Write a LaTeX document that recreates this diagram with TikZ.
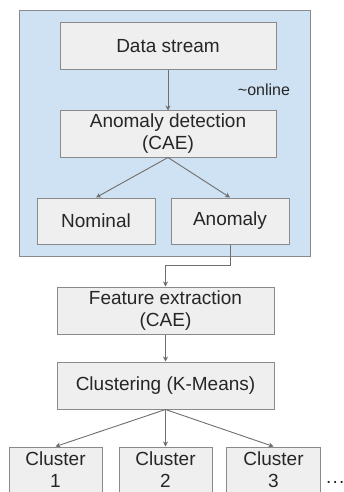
\documentclass[tikz,border=0pt]{standalone}
\usepackage{fontspec}
\setmainfont{Liberation Sans}
\usepackage{xcolor}
\usetikzlibrary{arrows.meta}

\definecolor{fundoazul}{HTML}{CFE2F3}
\definecolor{fundocaixa}{HTML}{EFEFEF}
\definecolor{bordacinza}{HTML}{8A8A8A}
\definecolor{setacinza}{HTML}{6E6E6E}

\tikzset{
  caixa/.style={draw=bordacinza, line width=1pt, fill=fundocaixa, inner sep=0pt,
    align=center, font=\fontsize{19}{22}\selectfont, text=black!85},
  seta/.style={draw=setacinza, line width=0.9pt, -{Stealth[length=5pt,width=5pt]}}
}

\begin{document}
\begin{tikzpicture}[x=1pt,y=-1pt]

\useasboundingbox (0,0) rectangle (343,492);
\clip (0,0) rectangle (343,492);

% Região online (fundo azul)
\draw[bordacinza, line width=1pt, fill=fundoazul] (19,11) rectangle (310,256);
\node[font=\fontsize{16}{18}\selectfont, text=black!85] (online) at (264,90) {\char`\~online};

% Caixas da parte online
\node[caixa, minimum width=216pt, minimum height=47pt] (dados) at (168,46.5) {Data stream};
\node[caixa, minimum width=216pt, minimum height=46pt] (deteccao) at (168,134) {Anomaly detection\\(CAE)};
\node[caixa, minimum width=118pt, minimum height=46pt] (nominal) at (96,221) {Nominal};
\node[caixa, minimum width=118pt, minimum height=46pt] (anomalia) at (230,221) {Anomaly};

% Caixas da parte offline
\node[caixa, minimum width=217pt, minimum height=47pt] (extracao) at (165.5,310.5) {Feature extraction\\(CAE)};
\node[caixa, minimum width=217pt, minimum height=47pt] (agrupamento) at (165.5,385.5) {Clustering (K-Means)};

% Clusters (cortados embaixo)
\node[caixa, minimum width=93pt, minimum height=46pt] (cluster1) at (55.5,470) {Cluster\\1};
\node[caixa, minimum width=93pt, minimum height=46pt] (cluster2) at (165.5,470) {Cluster\\2};
\node[caixa, minimum width=94pt, minimum height=46pt] (cluster3) at (273.5,470) {Cluster\\3};
\node[anchor=base west, inner sep=0pt, font=\fontsize{19}{22}\selectfont, text=black!85] (reticencias) at (326,483) {.\hspace{1.2pt}.\hspace{1.2pt}.};

% Setas
\draw[seta] (dados) -- (deteccao);
\draw[seta] (deteccao.south) -- (nominal.north);
\draw[seta] (deteccao.south) -- (anomalia.north);
\coordinate (dobra1) at (230,265);
\coordinate (dobra2) at (165.5,265);
\draw[seta] (anomalia.south) -- (dobra1) -- (dobra2) -- (extracao.north);
\draw[seta] (extracao) -- (agrupamento);
\draw[seta] (agrupamento.south) -- (cluster1.north);
\draw[seta] (agrupamento.south) -- (cluster2.north);
\draw[seta] (agrupamento.south) -- (cluster3.north);

\end{tikzpicture}
\end{document}
